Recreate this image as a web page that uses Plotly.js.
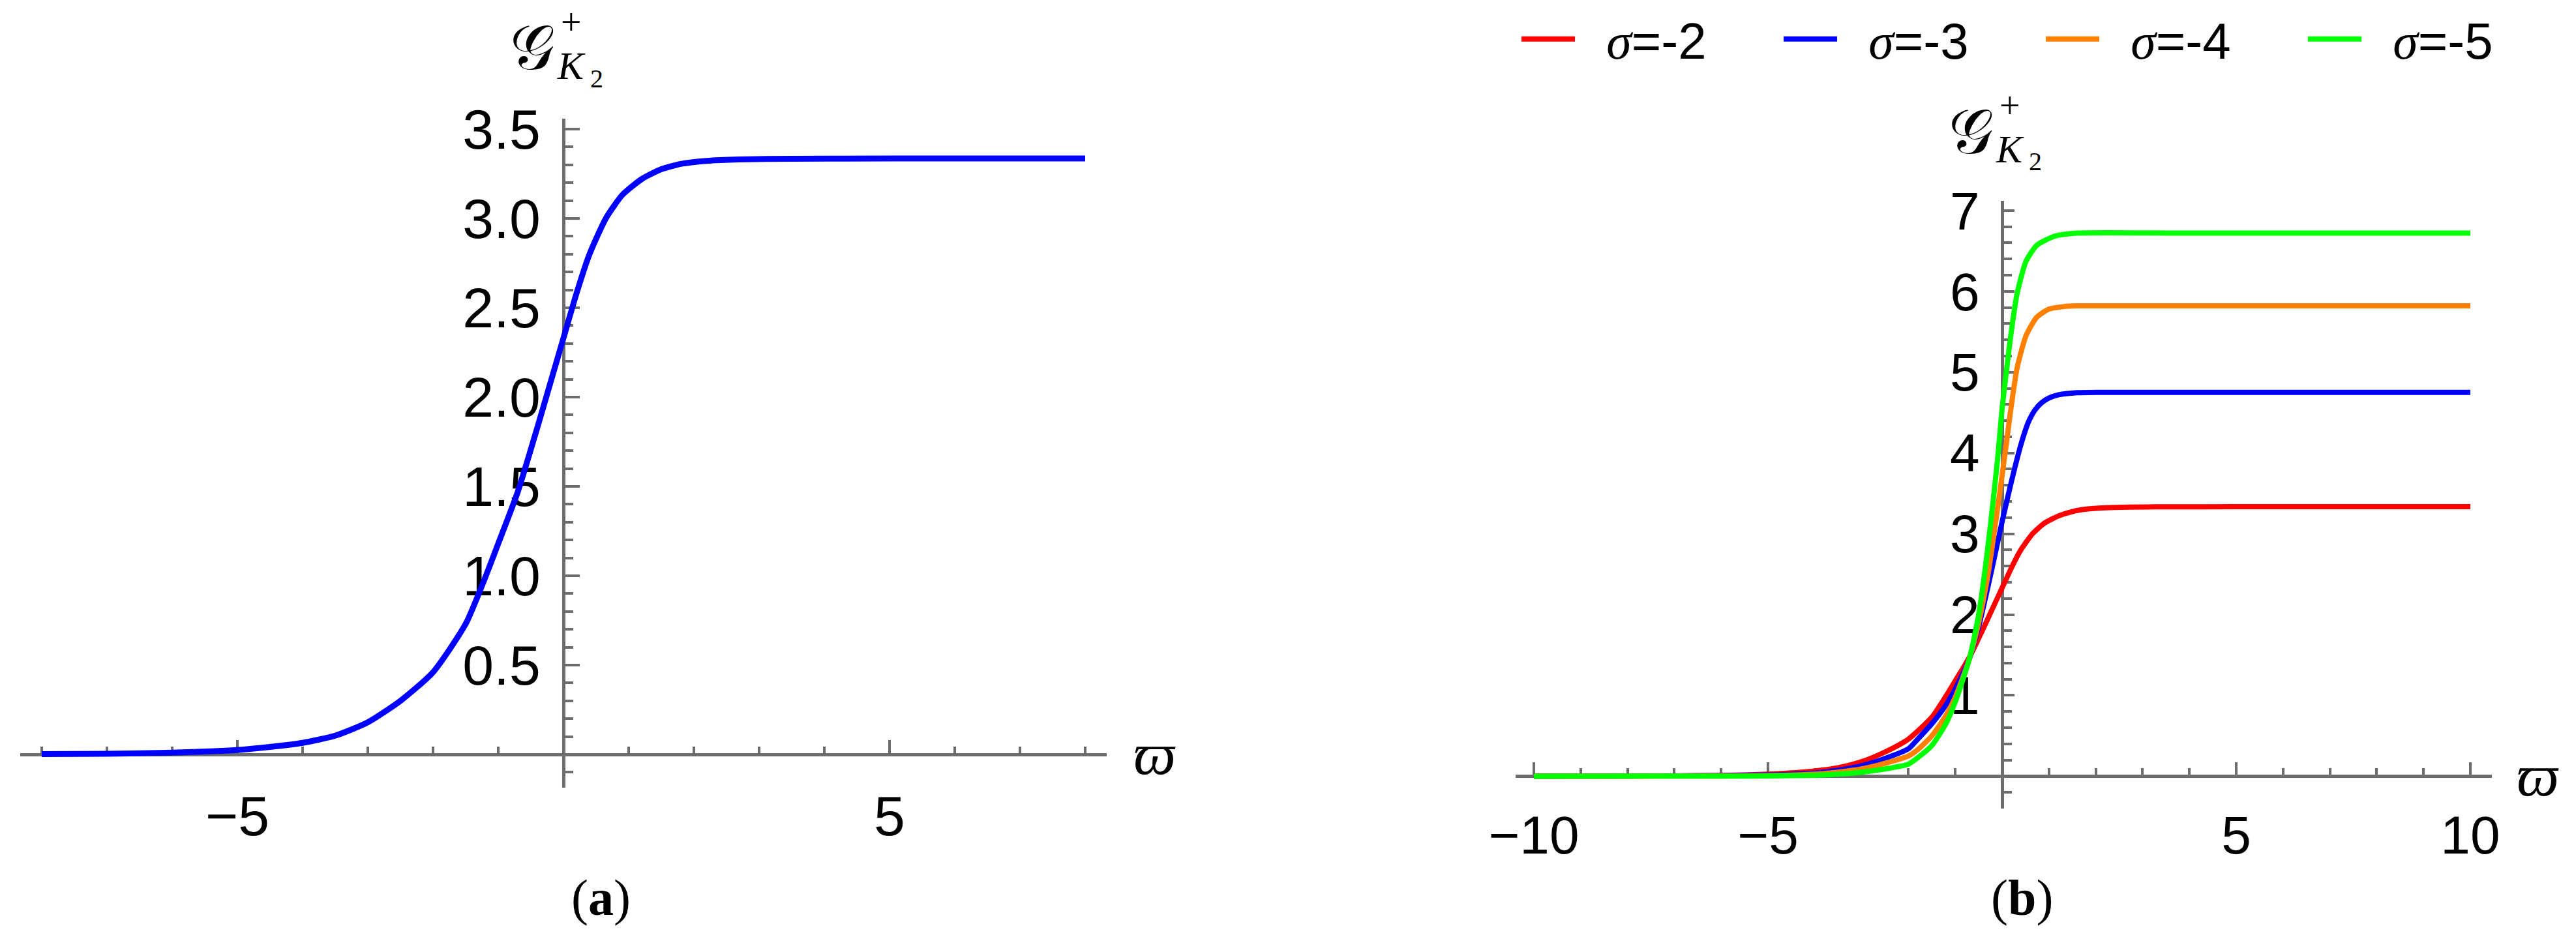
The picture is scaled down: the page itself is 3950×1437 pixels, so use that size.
<!DOCTYPE html>
<html>
<head>
<meta charset="utf-8">
<script src="https://cdn.plot.ly/plotly-3.0.1.min.js"></script>
<style>
  html, body { margin: 0; padding: 0; background: #fff; overflow: hidden; }
  #plot { width: 3950px; height: 1437px; }
</style>
</head>
<body>
<div id="plot"></div>
<script>
// --- values ---
// panel (a): one curve
const omegaA = [-8, -7, -6, -5, -4.5, -4, -3.5, -3, -2.5, -2, -1.5, -1.2, -1, -0.7, -0.4, -0.2, 0, 0.2, 0.4, 0.65, 0.9, 1.2, 1.5, 1.8, 2.2, 2.7, 3.5, 5, 8];
const gA = [0.0015, 0.004, 0.01, 0.025, 0.042, 0.065, 0.105, 0.18, 0.3, 0.46, 0.73, 0.99, 1.18, 1.47, 1.83, 2.08, 2.33, 2.58, 2.8, 3.0, 3.13, 3.22, 3.275, 3.305, 3.322, 3.33, 3.334, 3.335, 3.335];

// panel (b): four sigma values
const sigmas = ["-2", "-3", "-4", "-5"];
const colors = ["#ff0000", "#0000ff", "#ff8000", "#00ff00"];

const omegaRed = [-10, -8, -7, -6, -5, -4.5, -4, -3.5, -3, -2.5, -2, -1.5, -1.2, -1, -0.7, -0.4, -0.2, 0, 0.2, 0.4, 0.65, 0.9, 1.2, 1.5, 1.8, 2.2, 2.7, 3.5, 5, 10];
const gRed = [0.0005, 0.0015, 0.004, 0.01, 0.025, 0.042, 0.065, 0.105, 0.18, 0.3, 0.46, 0.73, 0.99, 1.18, 1.47, 1.83, 2.08, 2.33, 2.58, 2.8, 3.0, 3.13, 3.22, 3.275, 3.305, 3.322, 3.33, 3.334, 3.335, 3.335];

const omegaBlue = [-10, -6, -5, -4, -3.5, -3, -2.5, -2, -1.8, -1.5, -1.2, -1, -0.7, -0.5, -0.3, -0.1, 0, 0.2, 0.4, 0.56, 0.7, 0.84, 1, 1.21, 1.6, 2.05, 4, 10];
const gBlue = [0, 0.006, 0.015, 0.04, 0.075, 0.13, 0.22, 0.34, 0.46, 0.65, 0.88, 1.08, 1.45, 1.85, 2.35, 2.88, 3.15, 3.65, 4.1, 4.38, 4.53, 4.62, 4.68, 4.72, 4.745, 4.75, 4.75, 4.75];

const omegaOrange = [-10, -6, -5, -4, -3.5, -3, -2.5, -2, -1.8, -1.5, -1.2, -1, -0.7, -0.5, -0.3, -0.1, 0, 0.11, 0.2, 0.32, 0.51, 0.74, 1, 1.3, 1.6, 4, 10];
const gOrange = [0, 0.002, 0.007, 0.025, 0.05, 0.09, 0.16, 0.25, 0.33, 0.5, 0.75, 0.98, 1.45, 1.9, 2.5, 3.3, 3.72, 4.2, 4.6, 5.05, 5.45, 5.68, 5.78, 5.81, 5.82, 5.82, 5.82];

const omegaGreen = [-10, -6, -5, -4, -3.5, -3, -2.5, -2, -1.8, -1.5, -1.2, -1, -0.7, -0.5, -0.3, -0.1, 0, 0.1, 0.18, 0.32, 0.51, 0.74, 1.11, 1.58, 4, 10];
const gGreen = [0, 0.001, 0.003, 0.012, 0.025, 0.05, 0.09, 0.15, 0.23, 0.38, 0.65, 0.92, 1.45, 2.0, 2.85, 3.9, 4.55, 5.05, 5.43, 5.97, 6.37, 6.57, 6.68, 6.72, 6.72, 6.72];

const xTicksA = [-5, 5];
const yTicksA = [0.5, 1, 1.5, 2, 2.5, 3, 3.5];
const xTicksB = [-10, -5, 5, 10];
const yTicksB = [1, 2, 3, 4, 5, 6, 7];

// --- page geometry (pixels of the 3950x1437 canvas) ---
const W = 3950, H = 1437;
const px = v => v / W;
const py = v => 1 - v / H;

const axisGrey = "#6d6d6d";
const tickFont = size => ({ family: "Liberation Sans, Arial, sans-serif", size: size, color: "#000" });

function axisStyle(extra) {
  return Object.assign({
    anchor: "free",
    showline: true, linecolor: axisGrey, linewidth: 5,
    showgrid: false, zeroline: false,
    ticks: "inside", tickcolor: axisGrey, tickwidth: 4,
    tickmode: "array",
    layer: "below traces",
    fixedrange: true
  }, extra);
}

const seriesB = [
  [omegaRed, gRed], [omegaBlue, gBlue], [omegaOrange, gOrange], [omegaGreen, gGreen]
];

const traces = [{
  type: "scatter", mode: "lines",
  x: omegaA, y: gA,
  xaxis: "x", yaxis: "y",
  line: { color: "#0000ff", width: 9, shape: "spline", smoothing: 0.6 },
  showlegend: false
}];

seriesB.forEach(([xs, ys], i) => {
  traces.push({
    type: "scatter", mode: "lines",
    x: xs, y: ys,
    xaxis: "x2", yaxis: "y2",
    name: '\u00a0\u00a0<span style="font-family:Liberation Serif;font-style:italic">σ</span>=' + sigmas[i],
    line: { color: colors[i], width: 8, shape: "spline", smoothing: 0.6 }
  });
});

// label pieces for G^+_{K2}
function gLabel(cx, cy) {
  const serif = "Liberation Serif, DejaVu Serif, serif";
  return [
    { x: px(cx), y: py(cy), text: "𝒢", font: { family: serif, size: 96, color: "#000" } },
    { x: px(cx + 60), y: py(cy - 40), text: "+", font: { family: serif, size: 56, color: "#000" } },
    { x: px(cx + 60), y: py(cy + 27), text: "<i>K</i>", font: { family: serif, size: 60, color: "#000" } },
    { x: px(cx + 99), y: py(cy + 46), text: "2", font: { family: serif, size: 40, color: "#000" } }
  ].map(a => Object.assign({ xref: "paper", yref: "paper", showarrow: false, xanchor: "center", yanchor: "middle" }, a));
}

const annotations = [].concat(
  gLabel(816, 74),
  gLabel(3022, 202),
  [
    { x: px(1770), y: py(1156), text: "<i>ϖ</i>" },
    { x: px(3891), y: py(1189), text: "<i>ϖ</i>" }
  ].map(a => Object.assign({ xref: "paper", yref: "paper", showarrow: false, xanchor: "center", yanchor: "middle",
      font: { family: "Liberation Serif, DejaVu Serif, serif", size: 92, color: "#000" } }, a)),
  [
    { x: px(921), y: py(1376), text: "(<b>a</b>)" },
    { x: px(3100), y: py(1376), text: "(<b>b</b>)" }
  ].map(a => Object.assign({ xref: "paper", yref: "paper", showarrow: false, xanchor: "center", yanchor: "middle",
      font: { family: "Liberation Serif, DejaVu Serif, serif", size: 78, color: "#000" } }, a))
);

const layout = {
  width: W, height: H,
  margin: { l: 0, r: 0, t: 0, b: 0, autoexpand: false },
  paper_bgcolor: "#fff", plot_bgcolor: "rgba(0,0,0,0)",
  xaxis: axisStyle({
    domain: [px(31), px(1697)], range: [-8.33, 8.33], position: py(1157),
    tickvals: xTicksA, ticktext: xTicksA.map(v => v < 0 ? "−" + Math.abs(v) : String(v)),
    ticklen: 20, tickfont: tickFont(86), ticklabelstandoff: 18,
    minor: { tickmode: "linear", tick0: 0, dtick: 1, ticks: "inside", ticklen: 10, tickwidth: 4, tickcolor: axisGrey }
  }),
  yaxis: axisStyle({
    domain: [py(1208), py(182)], range: [-0.186, 3.558], position: px(864),
    tickvals: yTicksA, ticktext: yTicksA.map(v => v.toFixed(1)),
    ticklen: 22, tickfont: tickFont(86), ticklabelstandoff: 16,
    minor: { tickmode: "linear", tick0: 0, dtick: 0.1, ticks: "inside", ticklen: 12, tickwidth: 4, tickcolor: axisGrey }
  }),
  xaxis2: axisStyle({
    domain: [px(2324), px(3821)], range: [-10.39, 10.46], position: py(1190),
    tickvals: xTicksB, ticktext: xTicksB.map(v => v < 0 ? "−" + Math.abs(v) : String(v)),
    ticklen: 19, tickfont: tickFont(82), ticklabelstandoff: 18,
    minor: { tickmode: "linear", tick0: 0, dtick: 1, ticks: "inside", ticklen: 10, tickwidth: 4, tickcolor: axisGrey }
  }),
  yaxis2: axisStyle({
    domain: [py(1240), py(308)], range: [-0.4, 7.12], position: px(3070),
    tickvals: yTicksB, ticktext: yTicksB.map(String),
    ticklen: 16, tickfont: tickFont(82), ticklabelstandoff: 16,
    minor: { tickmode: "linear", tick0: 0, dtick: 0.2, ticks: "inside", ticklen: 12, tickwidth: 4, tickcolor: axisGrey }
  }),
  showlegend: true,
  legend: {
    orientation: "h",
    x: px(2328), xanchor: "left",
    y: py(60), yanchor: "middle",
    font: { family: "Liberation Sans, Arial, sans-serif", size: 78, color: "#000" },
    itemwidth: 82,
    entrywidth: 305, entrywidthmode: "pixels",
    bgcolor: "rgba(0,0,0,0)", borderwidth: 0
  },
  annotations: annotations
};

Plotly.newPlot("plot", traces, layout, { staticPlot: true });
</script>
</body>
</html>
